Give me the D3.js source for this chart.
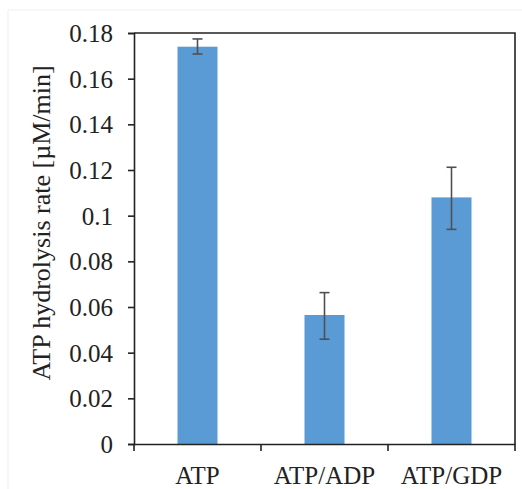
<!DOCTYPE html>
<html>
<head>
<meta charset="utf-8">
<script src="https://cdn.jsdelivr.net/npm/d3@7"></script>
<style>
  body { margin: 0; background: #fff; overflow: hidden; }
</style>
</head>
<body>
<div id="chart"></div>
<script>
// data
const categories = ['ATP', 'ATP/ADP', 'ATP/GDP'];
const rates = [0.174, 0.0565, 0.108];
const errLow = [0.1708, 0.0459, 0.094];
const errHigh = [0.1774, 0.0663, 0.1212];
const yTicks = [0, 0.02, 0.04, 0.06, 0.08, 0.1, 0.12, 0.14, 0.16, 0.18];

const width = 522, height = 489;
const margin = {top: 33, right: 7, bottom: 45, left: 134};
const innerW = width - margin.left - margin.right;
const innerH = height - margin.top - margin.bottom;
const serif = "'Liberation Serif', 'Times New Roman', 'DejaVu Serif', serif";

const svg = d3.select('#chart').append('svg')
    .attr('width', width)
    .attr('height', height)
    .style('display', 'block');

// faint outer frame of the original figure
svg.append('path')
    .attr('d', `M8,${height} V10 H${width}`)
    .attr('fill', 'none')
    .attr('stroke', '#eeeeee')
    .attr('stroke-width', 1);

const g = svg.append('g')
    .attr('transform', `translate(${margin.left},${margin.top})`);

const x = d3.scaleBand()
    .domain(categories)
    .range([0, innerW])
    .paddingInner(0.685)
    .paddingOuter(0.3425);

const y = d3.scaleLinear()
    .domain([0, 0.18])
    .range([innerH, 0]);

// bars
g.selectAll('.bar')
  .data(categories)
  .join('rect')
    .attr('class', 'bar')
    .attr('x', d => x(d))
    .attr('y', (d, i) => y(rates[i]))
    .attr('width', x.bandwidth())
    .attr('height', (d, i) => innerH - y(rates[i]))
    .attr('fill', '#5b9bd5');

// error bars
const err = g.selectAll('.err')
  .data(categories)
  .join('g')
    .attr('class', 'err')
    .attr('transform', d => `translate(${x(d) + x.bandwidth() / 2},0)`)
    .attr('stroke', '#505050')
    .attr('stroke-width', 1.6);

err.append('line')
    .attr('y1', (d, i) => y(errLow[i]))
    .attr('y2', (d, i) => y(errHigh[i]));
err.append('line')
    .attr('x1', -5).attr('x2', 5)
    .attr('y1', (d, i) => y(errLow[i]))
    .attr('y2', (d, i) => y(errLow[i]));
err.append('line')
    .attr('x1', -5).attr('x2', 5)
    .attr('y1', (d, i) => y(errHigh[i]))
    .attr('y2', (d, i) => y(errHigh[i]));

// y axis
const yAxis = g.append('g')
    .call(d3.axisLeft(y).tickValues(yTicks).tickFormat(d => d3.format('~g')(d)).tickSize(6).tickPadding(15));
yAxis.selectAll('text')
    .attr('font-family', serif)
    .attr('font-size', 25)
    .attr('fill', '#222')
    .attr('dy', '0.34em');

// x axis: labels under bars, ticks at category boundaries
const xAxis = g.append('g')
    .attr('transform', `translate(0,${innerH})`)
    .call(d3.axisBottom(x).tickSize(0).tickPadding(22));
xAxis.selectAll('text')
    .attr('font-family', serif)
    .attr('font-size', 25)
    .attr('fill', '#222');

g.append('g')
    .attr('transform', `translate(0,${innerH})`)
  .selectAll('line')
  .data(d3.range(categories.length + 1))
  .join('line')
    .attr('x1', i => i * x.step())
    .attr('x2', i => i * x.step())
    .attr('y2', 7);

g.selectAll('.domain, .tick line, line').filter(function() { return !this.closest('.err'); })
    .attr('stroke', '#222')
    .attr('stroke-width', 1.6);

// top and right frame
g.append('path')
    .attr('d', `M0,0 H${innerW} V${innerH}`)
    .attr('fill', 'none')
    .attr('stroke', '#222')
    .attr('stroke-width', 1.6);

// y label
svg.append('text')
    .attr('transform', `translate(50,223) rotate(-90)`)
    .attr('text-anchor', 'middle')
    .attr('font-family', serif)
    .attr('font-size', 26)
    .attr('fill', '#222')
    .text('ATP hydrolysis rate [µM/min]');
</script>
</body>
</html>
